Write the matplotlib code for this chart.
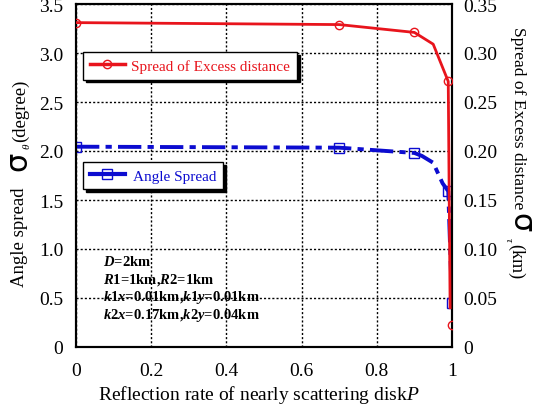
import numpy as np
import matplotlib
matplotlib.use("Agg")
import matplotlib.pyplot as plt
from matplotlib.lines import Line2D

plt.rcParams['font.family'] = ['Liberation Serif', 'DejaVu Serif']
plt.rcParams['mathtext.fontset'] = 'custom'
plt.rcParams['mathtext.rm'] = 'Liberation Serif'
plt.rcParams['mathtext.it'] = 'Liberation Serif:italic'
plt.rcParams['mathtext.bf'] = 'Liberation Serif:bold'
plt.rcParams['mathtext.bfit'] = 'Liberation Serif:italic:bold'

# Spread of excess distance (right axis, km)
p_red = [0, 0.7, 0.9, 0.95, 0.99, 0.995]
excess = [0.331, 0.329, 0.321, 0.309, 0.271, 0.040]
p_red_mk = [0, 0.7, 0.9, 0.99, 1.0]
excess_mk = [0.331, 0.329, 0.321, 0.271, 0.022]

# Angle spread (left axis, degree)
p_blue = [0, 0.7, 0.9, 0.92, 0.95, 0.975, 0.99, 1.0]
angle = [2.044, 2.034, 1.98, 1.95, 1.88, 1.67, 1.59, 0.45]
p_blue_mk = [0, 0.7, 0.9, 0.99, 1.0]
angle_mk = [2.044, 2.034, 1.98, 1.59, 0.45]

xticks = [0, 0.2, 0.4, 0.6, 0.8, 1.0]
xticklabels = ['0', '0.2', '0.4', '0.6', '0.8', '1']
lticks = [0, 0.5, 1.0, 1.5, 2.0, 2.5, 3.0, 3.5]
lticklabels = ['0', '0.5', '1.0', '1.5', '2.0', '2.5', '3.0', '3.5']
rticks = [0, 0.05, 0.10, 0.15, 0.20, 0.25, 0.30, 0.35]
rticklabels = ['0', '0.05', '0.10', '0.15', '0.20', '0.25', '0.30', '0.35']

W, H = 543, 414
fig = plt.figure(figsize=(W / 100, H / 100), dpi=100)
ax = fig.add_axes([76 / W, 1 - 348 / H, (452 - 76) / W, (348 - 5) / H])
ax2 = ax.twinx()

red = '#e8141c'
blue = '#0c0cd0'

ax.plot(p_blue, angle, color=blue, lw=2.8, dashes=(6, 1.6, 1.6, 1.6), zorder=3)
ax.plot(p_blue_mk, angle_mk, ls='none', marker='s', ms=7, mfc='none', mec=blue,
        mew=1.0, zorder=4)
ax2.plot(p_red, excess, color=red, lw=2.0, zorder=3)
ax2.plot(p_red_mk, excess_mk, ls='none', marker='o', ms=6, mfc='none', mec=red,
         mew=1.0, zorder=4)

ax.set_xlim(0, 1)
ax.set_ylim(0, 3.5)
ax2.set_ylim(0, 0.35)
ax.set_xticks(xticks, xticklabels)
ax.set_yticks(lticks, lticklabels)
ax2.set_yticks(rticks, rticklabels)
ax.tick_params(axis='both', length=0, labelsize=14)
ax.tick_params(axis='x', pad=11)
ax.tick_params(axis='y', pad=9)
ax2.tick_params(axis='y', length=0, labelsize=14, pad=8)
ax.grid(True, color='black', ls=(0, (1.5, 1.5)), lw=1.0)
for a in (ax, ax2):
    for s in a.spines.values():
        s.set_linewidth(1.5)
        s.set_color('black')

# legends with solid black shadow
h_red = Line2D([], [], color=red, lw=2.5, marker='o', ms=6, mfc='none', mec=red)
h_blue = Line2D([], [], color=blue, lw=3, marker='s', ms=7, mfc='none', mec=blue)
sh = {'shade': 1.0, 'alpha': 1.0}
leg1 = ax.legend([h_red], ['Spread of Excess distance'], loc='upper left',
                 bbox_to_anchor=((83 - 76) / 376, (348 - 53) / 343), frameon=True,
                 fancybox=False, edgecolor='black', shadow=sh, fontsize=11,
                 labelcolor=[red], handlelength=2.3, handletextpad=0.4,
                 borderaxespad=0, borderpad=0.45)
leg1.get_frame().set_linewidth(1.0)
ax.add_artist(leg1)
leg2 = ax.legend([h_blue], ['Angle Spread'], loc='upper left',
                 bbox_to_anchor=((83 - 76) / 376, (348 - 163) / 343), frameon=True,
                 fancybox=False, edgecolor='black', shadow=sh, fontsize=11,
                 labelcolor=[blue], handlelength=2.3, handletextpad=0.5,
                 borderaxespad=0, borderpad=0.45)
leg2.get_frame().set_linewidth(1.0)

params = [r'$\mathbfit{D}$=2km',
          r'$\mathbfit{R}$1=1km,$\mathbfit{R}$2=1km',
          r'$\mathbfit{k}$1$\mathbfit{x}$=0.01km,$\mathbfit{k}$1$\mathbfit{y}$=0.01km',
          r'$\mathbfit{k}$2$\mathbfit{x}$=0.17km,$\mathbfit{k}$2$\mathbfit{y}$=0.04km']
for i, t in enumerate(params):
    fig.text(103 / W, 1 - (262 + 17.8 * i) / H, t, fontsize=10.5, fontweight='bold',
             va='center', ha='left')

# x label
fig.text(259 / W, 1 - 395 / H, r'Reflection rate of nearly scattering disk$\mathit{P}$',
         fontsize=14, ha='center', va='center')

# left y label pieces
fig.text(20 / W, 1 - 287 / H, 'Angle spread', rotation=90, fontsize=13.5,
         ha='center', va='bottom')
fig.text(18 / W, 1 - 161 / H, 'σ', family='DejaVu Sans', rotation=90,
         fontsize=22, ha='center', va='center')
fig.text(27 / W, 1 - 146 / H, r'$\mathit{\theta}$', rotation=90, fontsize=8,
         ha='center', va='center')
fig.text(20 / W, 1 - 80 / H, '(degree)', rotation=90, fontsize=13.5,
         ha='center', va='top')

# right y label pieces
fig.text(518 / W, 1 - 27 / H, 'Spread of Excess distance', rotation=270,
         fontsize=12.6, ha='center', va='top')
fig.text(521 / W, 1 - 223 / H, 'σ', family='DejaVu Sans', rotation=270,
         fontsize=22, ha='center', va='center')
fig.text(509 / W, 1 - 240 / H, r'$\mathit{\tau}$', rotation=270, fontsize=8,
         ha='center', va='center')
fig.text(516 / W, 1 - 244 / H, '(km)', rotation=270, fontsize=13,
         ha='center', va='top')

fig.savefig('out.png', dpi=100)
